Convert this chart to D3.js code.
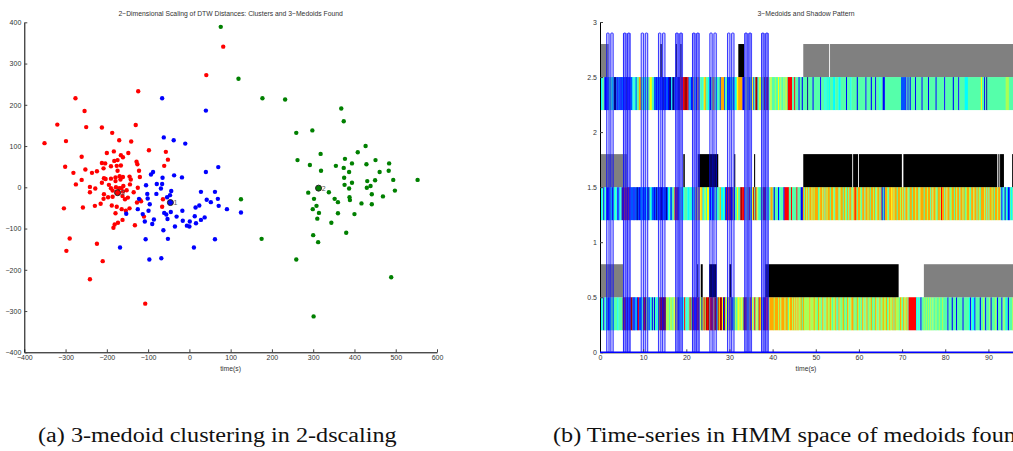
<!DOCTYPE html>
<html>
<head>
<meta charset="utf-8">
<script src="https://cdn.jsdelivr.net/npm/d3@7"></script>
<style>
  body { margin: 0; background: #fff; }
  svg text { font-family: "Liberation Sans", Arial, sans-serif; }
  .ax text { font-size: 7px; fill: #333; }
  .ax line { stroke: #444; }
  .ax path { stroke: #000; }
  .cap { font-family: "Liberation Serif", "Times New Roman", serif !important; font-size: 20px; fill: #111; }
</style>
</head>
<body>
<svg id="chart" width="1013" height="451"></svg>
<script>
// ---- panel (a): 2-d scaling, one array of [x, y] per cluster
var redPts = [[-276,216],[-124,233],[-254,185],[-320,152],[-250,146],[-212,145],[-130,151],[-351,107],[-299,112],[-187,132],
  [-170,114],[-141,111],[-98,90],[-57,86],[-52,67],[-61,52],[-261,74],[-200,83],[-183,87],[-166,78],[-161,73],[-148,83],
  [-301,50],[-281,35],[-252,43],[-236,35],[-224,39],[-212,59],[-204,58],[-208,46],[-190,51],[-182,64],[-174,66],[-176,52],
  [-166,53],[-174,40],[-128,62],[-126,56],[-122,40],[-120,25],[-261,18],[-275,7],[-241,1],[-228,-3],[-212,11],[-203,20],
  [-207,22],[-190,21],[-179,24],[-179,15],[-169,27],[-167,19],[-161,25],[-145,26],[-142,19],[-144,7],[-160,3],[-165,-2],
  [-195,6],[-190,-2],[-186,-8],[-178,0],[-170,-2],[-241,-12],[-207,-17],[-208,-28],[-197,-24],[-186,-23],[-161,-10],
  [-152,-7],[-135,-12],[-125,-1],[-162,-21],[-156,-29],[-149,-25],[-119,-31],[-117,-34],[-127,-37],[-145,-51],[-154,-57],
  [-164,-53],[-176,-47],[-188,-44],[-215,-40],[-229,-45],[-258,-49],[-304,-51],[-179,-63],[-162,-79],[-173,-86],[-181,-90],
  [-184,-98],[-132,-92],[-110,-71],[-64,-29],[-66,-47],[-290,-124],[-224,-137],[-298,-154],[-210,-179],[-241,-223],
  [-107,-282],[82,341],[41,272]];
var bluePts = [[-66,216],[40,186],[-62,121],[-38,114],[-10,106],[-88,37],[-93,31],[40,37],[70,49],[-37,29],[-18,24],
  [-65,23],[-79,8],[-66,8],[-105,5],[-69,-3],[-44,-9],[-47,-19],[-54,-24],[-102,-16],[-80,-16],[-122,-28],[28,-11],[62,-11],
  [42,-30],[69,-28],[52,-36],[24,-44],[15,-49],[71,-45],[91,-53],[125,-61],[-101,-27],[-96,-41],[-17,-57],[-31,-71],
  [-61,-62],[-56,-66],[-53,-77],[-45,-60],[-99,-57],[-125,-53],[-113,-65],[-108,-83],[-86,-78],[-90,-89],[-16,-81],[1,-83],
  [13,-70],[37,-73],[28,-79],[16,-87],[-6,-93],[0,-95],[-35,-95],[-63,-104],[-52,-125],[-106,-126],[62,-126],[11,-146],
  [-168,-146],[-68,-172],[-97,-175],[-153,-64]];
var greenPts = [[177,216],[232,213],[368,191],[374,160],[259,132],[298,138],[427,100],[408,85],[318,81],[262,66],[377,69],
  [451,66],[484,58],[394,58],[292,54],[355,52],[429,56],[374,47],[319,40],[387,37],[461,37],[483,40],[375,23],[394,11],
  [431,15],[450,17],[494,18],[553,18],[376,6],[439,3],[430,-1],[387,-3],[498,-8],[288,-13],[338,-12],[442,-17],[469,-22],
  [302,-28],[352,-28],[388,-24],[389,-31],[360,-36],[417,-39],[442,-41],[308,-45],[299,-53],[314,-62],[360,-63],[400,-65],
  [310,-76],[344,-86],[380,-110],[300,-116],[312,-133],[175,-125],[259,-175],[489,-218],[301,-313],[125,-29],[76,389],[119,263]];
var medoidPts = [[-46,-37],[313,-2],[-174,-13]];
var medoidLabels = ['1', '2', '3'];
var xTicksA = [-400,-300,-200,-100,0,100,200,300,400,500,600];
var yTicksA = [-400,-300,-200,-100,0,100,200,300,400];

// ---- panel (b): state strings, one char per 0.25 s (0 = dark blue ... 9 = dark red)
var row0 = ["4341434123","4434443444","4999292199","2123182234","8994413414","1434499909","9555455456","6614334384",
  "3448499119","9955058598","9689869939","6996194616","1614454565","5649994468","4648464868","4199884777",
  "7577757577","7577467757","5757557475","5555755575","5475547545","7557545574","4754574547","5457745475",
  "4547545745","5745475457","4575574575","5747555475","4755748888","8883434144","5454545454","4544544544",
  "4414441444","1444441444","4431433144","4414454144","4514445414","4414543414","4454445444","4444444444"].join('');
var row1 = ["4341341124","3143431234","1999999122","2122021232","2223024322","1202210022","2023422448","9904434344",
  "4334343367","6776734636","6313124434","4733431918","9016144644","9988446494","4694964437","4999434477",
  "4144413444","1888844844","4484441174","7574775757","7745775747","5774775477","7457747547","4774578747",
  "7547747757","4775745774","7142775477","6757747757","5747754774","7757745777","4775774757","7547758774",
  "7577457747","5774775745","7754775774","7547775747","4775747757","7413414312","4343434343","4343434343"].join('');
var row2 = ["4344112144","4340021221","2212021122","3432447744","4344446644","2212221202","1221003002","1200898899",
  "9823127341","7734436744","3414674434","4277724422","2342434677","7711464524","5624993564","4593995464",
  "4454464544","5464888844","8444144144","4404444144","4444144434","3434443344","4334444414","4434444414",
  "4444441444","4144414443","4411444444","4444444442","2221414144","4414444414","4444144444","4144444441",
  "4444444144","4414444433","3444444444","4446441404","4444444444","4444445554","4444444444","4444444444"].join('');
var stateRows = [row0, row1, row2];
var stateColors = ["#00008f","#0000ff","#0055ff","#00ffff","#55ffaa","#aaff55","#ffff00","#ffaa00","#ff0000","#aa0000"];

// shadow pattern per row: [start, end, kind] (k = matched, g = unmatched)
var shadow0 = [[0,5.4,'g'],[22.5,22.75,'k'],[23.35,23.8,'k'],[25.3,27.0,'k'],[30.0,30.4,'k'],[38.3,69.2,'k'],[75.05,96,'g']];
var shadow1 = [[0,6.3,'g'],[19.3,19.65,'k'],[22.65,27.4,'k'],[31.1,31.35,'k'],[35.7,35.95,'k'],[47.1,58.45,'k'],
  [58.65,59.8,'k'],[60.0,69.95,'k'],[70.3,92.05,'k'],[92.3,92.55,'k'],[92.7,93.6,'k'],[95.5,96,'k']];
var shadow2 = [[0,2.0,'g'],[14.0,14.3,'k'],[17.55,17.85,'k'],[18.6,18.9,'k'],[32.05,33.4,'k'],[47.1,53.1,'g'],[53.3,96,'g']];
var shadowRows = [shadow0, shadow1, shadow2];

// medoid windows (start time) and whether shading is heavy
var windowStarts = [1.55, 5.45, 9.55, 13.55, 17.55, 21.45, 25.45, 29.55, 33.55, 37.45];
var windowHeavy = [0, 1, 0, 0, 1, 1, 0, 0, 1, 1];
var xTicksB = [0,10,20,30,40,50,60,70,80,90];
var yTicksB = [0,0.5,1,1.5,2,2.5,3];
var tMax = 95.7;

var svg = d3.select('#chart');

// ================= panel (a)
var xA = d3.scaleLinear().domain([-400, 600]).range([24.3, 437]);
var yA = d3.scaleLinear().domain([-400, 400]).range([352.3, 22.3]);

svg.append('text').attr('x', 230.6).attr('y', 15.6).attr('text-anchor', 'middle')
  .attr('font-size', 6.8).attr('fill', '#333')
  .text('2\u2212Dimensional Scaling of DTW Distances: Clusters and 3\u2212Medoids Found');

var clusters = [[redPts, '#ff0000'], [bluePts, '#0000ff'], [greenPts, '#008000']];
clusters.forEach(function(c) {
  svg.append('g').selectAll('circle')
    .data(c[0])
    .enter()
    .append('circle')
    .attr('cx', function(d) { return xA(d[0]); })
    .attr('cy', function(d) { return yA(d[1]); })
    .attr('r', 2.2)
    .attr('fill', c[1]);
});

var medColors = ['#0000ff', '#008000', '#ff0000'];
var med = svg.append('g');
med.selectAll('circle')
  .data(medoidPts)
  .enter()
  .append('circle')
  .attr('cx', function(d) { return xA(d[0]); })
  .attr('cy', function(d) { return yA(d[1]); })
  .attr('r', 3)
  .attr('fill', function(d, i) { return medColors[i]; })
  .attr('stroke', '#222').attr('stroke-width', 1);
med.selectAll('text')
  .data(medoidPts)
  .enter()
  .append('text')
  .attr('x', function(d) { return xA(d[0]) + 3.2; })
  .attr('y', function(d) { return yA(d[1]) + 2.5; })
  .attr('font-size', 7).attr('fill', '#555')
  .text(function(d, i) { return medoidLabels[i]; });

svg.append('g').attr('class', 'ax').attr('transform', 'translate(0,352.3)')
  .call(d3.axisBottom(xA).tickValues(xTicksA).tickSize(-3).tickSizeOuter(0).tickPadding(3));
svg.append('g').attr('class', 'ax').attr('transform', 'translate(24.3,0)')
  .call(d3.axisLeft(yA).tickValues(yTicksA).tickSize(-3).tickSizeOuter(0).tickPadding(3));
svg.append('text').attr('x', 230.6).attr('y', 370.5).attr('text-anchor', 'middle')
  .attr('font-size', 6.8).attr('fill', '#333').text('time(s)');

// ================= panel (b)
var xB = d3.scaleLinear().domain([0, tMax]).range([600, 1013]);
var yB = d3.scaleLinear().domain([0, 3]).range([352.3, 22]);
var step = 0.25;

svg.append('text').attr('x', 806).attr('y', 15.6).attr('text-anchor', 'middle')
  .attr('font-size', 6.8).attr('fill', '#333').text('3\u2212Medoids and Shadow Pattern');

function runs(str) {
  var out = [], s = 0;
  for (var i = 1; i <= str.length; i++) {
    if (i == str.length || str[i] != str[s]) {
      out.push({ a: s * step, b: i * step, c: +str[s] });
      s = i;
    }
  }
  return out;
}

var pb = svg.append('g');
stateRows.forEach(function(str, r) {
  pb.append('g').selectAll('rect')
    .data(runs(str))
    .enter()
    .append('rect')
    .attr('x', function(d) { return xB(d.a); })
    .attr('width', function(d) { return xB(d.b) - xB(d.a) + 0.3; })
    .attr('y', yB(r + 0.5))
    .attr('height', yB(r + 0.2) - yB(r + 0.5))
    .attr('fill', function(d) { return stateColors[d.c]; });
});

shadowRows.forEach(function(rows, r) {
  pb.append('g').selectAll('rect')
    .data(rows)
    .enter()
    .append('rect')
    .attr('x', function(d) { return xB(d[0]); })
    .attr('width', function(d) { return xB(d[1]) - xB(d[0]); })
    .attr('y', yB(r + 0.8))
    .attr('height', yB(r + 0.5) - yB(r + 0.8))
    .attr('fill', function(d) { return d[2] == 'k' ? '#000' : '#808080'; });
});

// medoid windows: shaded band plus two outlined bars
var win = pb.append('g');
win.selectAll('rect.band')
  .data(windowStarts)
  .enter()
  .append('rect')
  .attr('class', 'band')
  .attr('x', function(d) { return xB(d - 0.15); })
  .attr('width', xB(1.85) - xB(0))
  .attr('y', yB(2.9))
  .attr('height', yB(0) - yB(2.9))
  .attr('fill', '#4d4dff')
  .attr('fill-opacity', function(d, i) { return windowHeavy[i] ? 0.5 : 0.14; });
[0, 0.95].forEach(function(off) {
  win.append('g').selectAll('rect')
    .data(windowStarts)
    .enter()
    .append('rect')
    .attr('x', function(d) { return xB(d + off); })
    .attr('width', xB(0.55) - xB(0))
    .attr('y', yB(2.9))
    .attr('height', yB(0) - yB(2.9))
    .attr('rx', 0.8)
    .attr('fill', '#0000ff').attr('fill-opacity', 0.1)
    .attr('stroke', '#0000ff').attr('stroke-width', 0.75);
});

svg.append('g').attr('class', 'ax').attr('transform', 'translate(0,352.3)')
  .call(d3.axisBottom(xB).tickValues(xTicksB).tickSize(-3).tickSizeOuter(0).tickPadding(3));
svg.append('g').attr('class', 'ax').attr('transform', 'translate(600,0)')
  .call(d3.axisLeft(yB).tickValues(yTicksB).tickFormat(d3.format('~g'))
    .tickSize(-3).tickSizeOuter(0).tickPadding(3));

// signal line along zero
svg.append('path')
  .datum([0, tMax])
  .attr('d', d3.line().x(function(d) { return xB(d); }).y(yB(0)))
  .attr('stroke', '#0000ff').attr('stroke-width', 1.6).attr('fill', 'none');

svg.append('text').attr('x', 806).attr('y', 370.5).attr('text-anchor', 'middle')
  .attr('font-size', 6.8).attr('fill', '#333').text('time(s)');

// captions (stretched a little to match the wider TeX face)
svg.append('text').attr('class', 'cap').attr('transform', 'translate(38,442) scale(1.21,1)')
  .text('(a) 3-medoid clustering in 2-dscaling');
svg.append('text').attr('class', 'cap').attr('transform', 'translate(553,442) scale(1.21,1)')
  .text('(b) Time-series in HMM space of medoids found');
</script>
</body>
</html>
